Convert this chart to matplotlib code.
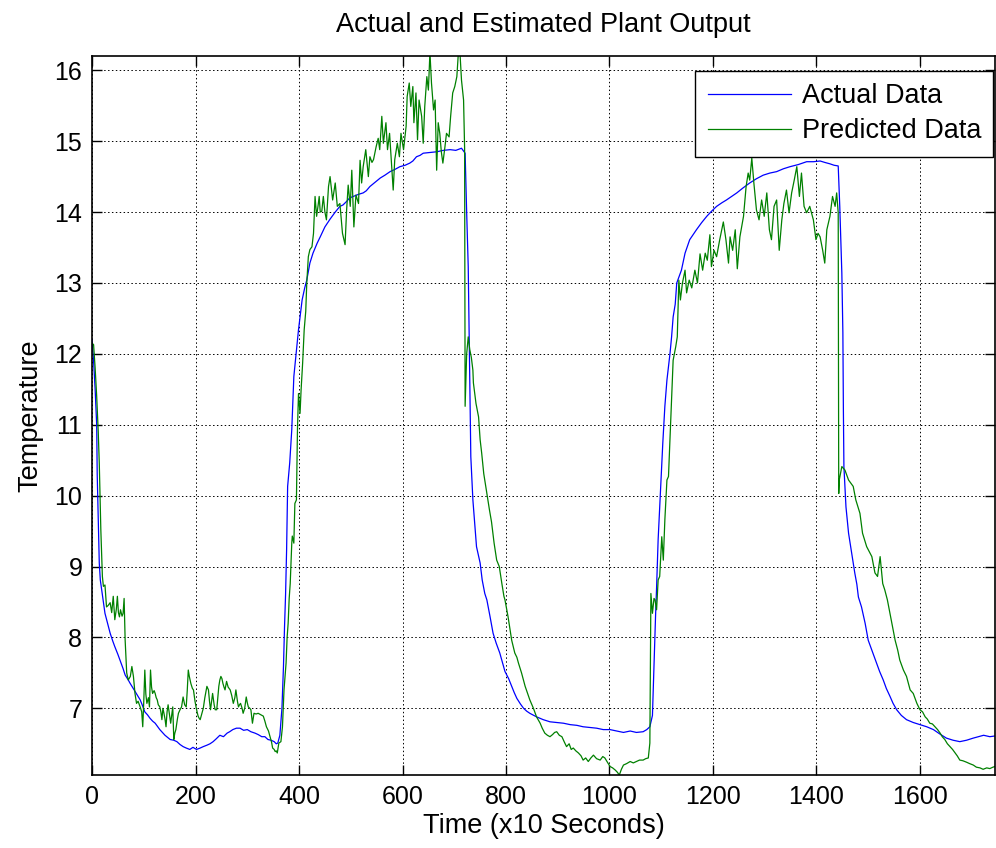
import matplotlib
matplotlib.use("Agg")
import matplotlib.pyplot as plt

# ---------------- data ----------------
t_actual = [
    0, 3, 6, 9, 10, 12, 14, 16, 20, 25,
    30, 35, 40, 44, 50, 54, 60, 64, 70, 73,
    78, 83, 88, 93, 98, 102, 107, 112, 117, 122,
    127, 131, 136, 141, 146, 151, 158, 164, 170, 176,
    182, 189, 195, 202, 209, 215, 222, 228, 234, 240,
    247, 254, 261, 266, 272, 279, 286, 293, 300, 307,
    315, 321, 328, 334, 340, 346, 352, 356, 359, 363,
    367, 370, 372, 374, 376, 378, 382, 386, 388, 390,
    394, 399, 402, 406, 411, 415, 421, 427, 435, 441,
    450, 460, 470, 479, 485, 492, 498, 505, 515, 524,
    530, 537, 547, 557, 566, 576, 585, 595, 605, 614,
    620, 627, 634, 640, 653, 666, 679, 692, 703, 714,
    721, 724, 727, 729, 730, 732, 736, 740, 743, 750,
    754, 759, 763, 769, 775, 781, 788, 793, 798, 805,
    811, 816, 821, 828, 834, 840, 846, 859, 872, 885,
    898, 911, 924, 937, 949, 962, 975, 988, 1001, 1014,
    1027, 1040, 1052, 1065, 1072, 1078, 1083, 1086, 1089, 1091,
    1094, 1099, 1103, 1107, 1111, 1117, 1120, 1123, 1127, 1130,
    1139, 1146, 1155, 1168, 1178, 1188, 1197, 1207, 1217, 1226,
    1236, 1246, 1258, 1271, 1284, 1297, 1310, 1323, 1336, 1349,
    1365, 1381, 1394, 1407, 1416, 1426, 1434, 1442, 1445, 1449,
    1451, 1452, 1453, 1457, 1462, 1468, 1474, 1478, 1481, 1487,
    1494, 1500, 1508, 1516, 1522, 1529, 1535, 1542, 1548, 1555,
    1564, 1574, 1587, 1600, 1613, 1626, 1638, 1651, 1664, 1677,
    1690, 1703, 1713, 1723, 1735, 1745,
]
v_actual = [
    12.2, 11.9, 11.5, 11.0, 10.3, 9.66, 9.05, 8.81, 8.6, 8.34,
    8.2, 8.06, 7.95, 7.87, 7.76, 7.68, 7.56, 7.47, 7.40, 7.36,
    7.30, 7.24, 7.18, 7.12, 7.03, 6.95, 6.91, 6.86, 6.82, 6.79,
    6.74, 6.70, 6.66, 6.62, 6.59, 6.56, 6.55, 6.53, 6.49, 6.46,
    6.44, 6.42, 6.45, 6.42, 6.44, 6.46, 6.48, 6.50, 6.53, 6.57,
    6.62, 6.60, 6.65, 6.67, 6.70, 6.72, 6.72, 6.69, 6.70, 6.67,
    6.65, 6.63, 6.60, 6.60, 6.56, 6.55, 6.53, 6.50, 6.51, 6.62,
    7.0, 7.6, 8.15, 8.6, 9.23, 10.13, 10.46, 10.93, 11.31, 11.68,
    11.98, 12.34, 12.52, 12.76, 12.93, 13.04, 13.28, 13.42, 13.56, 13.65,
    13.79, 13.90, 14.0, 14.08, 14.10, 14.15, 14.20, 14.22, 14.25, 14.27,
    14.30, 14.36, 14.42, 14.48, 14.52, 14.57, 14.60, 14.64, 14.66, 14.69,
    14.72, 14.78, 14.80, 14.83, 14.84, 14.85, 14.87, 14.88, 14.87, 14.90,
    14.83, 13.99, 13.23, 12.2, 11.59, 10.55, 9.94, 9.56, 9.28, 9.05,
    8.81, 8.62, 8.53, 8.30, 8.06, 7.92, 7.78, 7.65, 7.52, 7.42,
    7.31, 7.22, 7.14, 7.06, 7.0, 6.96, 6.93, 6.88, 6.84, 6.81,
    6.80, 6.79, 6.77, 6.76, 6.74, 6.73, 6.72, 6.70, 6.70, 6.68,
    6.66, 6.68, 6.66, 6.67, 6.70, 6.74, 6.9, 7.6, 8.3, 8.7,
    9.38, 10.13, 10.74, 11.26, 11.63, 12.01, 12.24, 12.52, 12.7, 13.0,
    13.18, 13.42, 13.61, 13.75, 13.85, 13.94, 14.01, 14.08, 14.13, 14.17,
    14.22, 14.27, 14.34, 14.41, 14.47, 14.52, 14.55, 14.57, 14.61, 14.64,
    14.67, 14.71, 14.71, 14.72, 14.70, 14.68, 14.66, 14.65, 14.08, 13.14,
    12.3, 11.21, 10.41, 9.84, 9.47, 9.19, 8.91, 8.75, 8.57, 8.43,
    8.2, 7.96, 7.80, 7.64, 7.52, 7.40, 7.28, 7.17, 7.07, 6.98,
    6.90, 6.84, 6.80, 6.77, 6.74, 6.70, 6.64, 6.58, 6.55, 6.53,
    6.55, 6.58, 6.60, 6.62, 6.60, 6.61,
]

t_predicted = [
    0, 3, 6, 9, 12, 14, 17, 20, 22, 25,
    28, 31, 35, 38, 41, 44, 47, 49, 51, 53,
    55, 58, 60, 62, 64, 67, 70, 74, 77, 80,
    83, 86, 89, 93, 96, 98, 100, 102, 104, 106,
    109, 111, 113, 115, 117, 120, 122, 124, 126, 128,
    131, 133, 135, 137, 139, 141, 143, 145, 147, 150,
    152, 154, 156, 158, 160, 162, 165, 167, 170, 173,
    176, 179, 182, 184, 186, 188, 191, 194, 196, 199,
    201, 203, 205, 207, 209, 212, 215, 218, 222, 225,
    227, 229, 231, 233, 236, 238, 241, 243, 245, 247,
    249, 251, 253, 255, 257, 260, 263, 267, 270, 273,
    276, 278, 281, 283, 285, 287, 290, 292, 295, 298,
    300, 302, 305, 307, 310, 313, 317, 321, 326, 331,
    334, 337, 341, 344, 347, 349, 352, 354, 356, 358,
    361, 365, 368, 371, 373, 375, 377, 379, 381, 383,
    386, 387, 390, 392, 395, 397, 399, 402, 404, 407,
    410, 413, 415, 418, 421, 425, 428, 431, 434, 437,
    439, 441, 444, 447, 450, 453, 457, 460, 465, 470,
    474, 479, 484, 489, 492, 495, 499, 502, 506, 510,
    515, 518, 521, 524, 529, 534, 537, 541, 544, 549,
    553, 556, 560, 563, 568, 571, 575, 579, 582, 585,
    590, 594, 597, 602, 607, 609, 613, 616, 620, 622,
    626, 629, 632, 637, 640, 643, 647, 650, 653, 656,
    660, 663, 666, 669, 672, 675, 678, 682, 685, 690,
    693, 697, 701, 705, 708, 711, 714, 718, 720, 721,
    724, 727, 730, 733, 736, 737, 742, 747, 750, 753,
    757, 763, 768, 772, 777, 782, 787, 792, 796, 798,
    804, 811, 817, 821, 824, 830, 837, 846, 853, 859,
    866, 870, 875, 880, 885, 890, 894, 898, 903, 908,
    913, 917, 922, 926, 930, 935, 940, 945, 949, 954,
    959, 964, 969, 975, 982, 987, 991, 996, 1001, 1006,
    1011, 1015, 1019, 1023, 1027, 1033, 1040, 1046, 1052, 1058,
    1065, 1070, 1075, 1078, 1080, 1083, 1086, 1088, 1091, 1094,
    1097, 1101, 1104, 1107, 1111, 1114, 1117, 1120, 1123, 1128,
    1131, 1134, 1137, 1141, 1146, 1149, 1154, 1159, 1165, 1170,
    1175, 1180, 1185, 1189, 1194, 1197, 1202, 1207, 1213, 1220,
    1225, 1230, 1233, 1238, 1243, 1247, 1252, 1259, 1264, 1268,
    1271, 1275, 1279, 1284, 1289, 1294, 1299, 1304, 1309, 1313,
    1318, 1323, 1328, 1333, 1337, 1342, 1347, 1352, 1357, 1362,
    1367, 1371, 1376, 1381, 1387, 1394, 1399, 1403, 1407, 1412,
    1416, 1420, 1426, 1431, 1436, 1439, 1442, 1443, 1444, 1449,
    1455, 1462, 1471, 1476, 1484, 1489, 1497, 1507, 1513, 1518,
    1523, 1528, 1532, 1537, 1542, 1547, 1552, 1557, 1561, 1568,
    1574, 1581, 1587, 1594, 1600, 1605, 1610, 1614, 1619, 1624,
    1629, 1634, 1639, 1643, 1648, 1653, 1658, 1663, 1668, 1672,
    1677, 1683, 1690, 1696, 1703, 1709, 1716, 1722, 1729, 1735,
    1741, 1745,
]
v_predicted = [
    12.15, 12.13, 11.8, 11.4, 10.9, 10.46, 9.52, 8.86, 8.72, 8.74,
    8.43, 8.45, 8.49, 8.35, 8.58, 8.25, 8.40, 8.58, 8.35, 8.29,
    8.39, 8.30, 8.34, 8.55, 7.96, 7.50, 7.40, 7.45, 7.59, 7.45,
    7.21, 7.07, 7.10, 7.02, 6.95, 6.74, 7.1, 7.54, 7.2, 7.07,
    7.15, 7.02, 7.54, 7.3, 7.21, 7.25, 7.21, 7.15, 7.12, 7.05,
    7.02, 6.95, 6.84, 7.0, 6.93, 6.85, 6.74, 6.95, 7.05, 6.9,
    6.79, 6.9, 7.02, 6.56, 6.65, 6.70, 6.85, 6.93, 6.98, 7.02,
    7.16, 7.05, 7.02, 7.25, 7.54, 7.45, 7.35, 7.28, 7.26, 7.10,
    7.02, 6.95, 6.89, 6.86, 6.84, 6.92, 7.0, 7.15, 7.31, 7.26,
    7.10, 6.98, 7.1, 7.21, 7.05, 6.98, 6.98, 7.15, 7.31, 7.40,
    7.45, 7.42, 7.35, 7.3, 7.26, 7.38, 7.30, 7.26, 7.18, 7.07,
    7.15, 7.26, 7.10, 7.02, 7.05, 7.07, 7.0, 6.93, 7.0, 7.16,
    7.08, 7.02, 7.0, 6.98, 6.79, 6.93, 6.92, 6.93, 6.91, 6.89,
    6.82, 6.74, 6.68, 6.60, 6.52, 6.44, 6.42, 6.39, 6.40, 6.37,
    6.51, 6.53, 6.74, 7.26, 7.45, 7.64, 8.0, 8.20, 8.55, 8.76,
    9.33, 9.43, 9.33, 9.89, 9.94, 10.93, 11.44, 11.16, 11.49, 11.87,
    12.34, 12.6, 13.0, 13.37, 13.47, 13.51, 13.70, 14.22, 13.94, 14.1,
    14.22, 14.0, 14.01, 14.22, 14.0, 13.89, 14.36, 14.5, 14.17, 14.41,
    14.08, 14.12, 13.70, 13.54, 14.03, 14.38, 14.08, 14.59, 13.79, 14.24,
    14.12, 14.73, 14.41, 14.64, 14.88, 14.5, 14.78, 14.70, 14.74, 14.92,
    15.04, 14.88, 15.35, 14.97, 15.26, 14.88, 15.11, 14.64, 14.31, 14.74,
    14.97, 14.78, 15.11, 14.88, 15.21, 15.63, 15.82, 15.49, 15.77, 15.26,
    15.68, 15.02, 15.58, 15.35, 14.97, 15.49, 15.91, 15.72, 16.25, 15.82,
    15.44, 15.58, 14.59, 15.26, 15.11, 14.85, 14.69, 14.92, 15.11, 15.06,
    15.35, 15.68, 15.77, 15.91, 16.25, 16.25, 15.86, 15.58, 14.9, 11.26,
    12.0, 12.24, 12.06, 11.95, 11.77, 11.59, 11.30, 11.11, 10.79, 10.60,
    10.31, 10.03, 9.80, 9.63, 9.33, 9.09, 9.0, 8.76, 8.58, 8.53,
    8.29, 7.96, 7.78, 7.72, 7.64, 7.50, 7.31, 7.12, 7.0, 6.88,
    6.79, 6.72, 6.65, 6.62, 6.60, 6.63, 6.66, 6.67, 6.62, 6.60,
    6.52, 6.46, 6.50, 6.42, 6.44, 6.40, 6.37, 6.33, 6.27, 6.30,
    6.25, 6.30, 6.34, 6.29, 6.27, 6.32, 6.30, 6.24, 6.18, 6.16,
    6.13, 6.10, 6.06, 6.14, 6.20, 6.22, 6.25, 6.23, 6.25, 6.27,
    6.27, 6.29, 6.30, 6.51, 8.62, 8.34, 8.55, 8.53, 8.39, 8.81,
    8.86, 9.42, 9.09, 9.66, 10.22, 10.27, 10.83, 11.35, 11.91, 12.10,
    12.24, 13.04, 12.76, 13.0, 13.18, 12.86, 13.04, 12.93, 13.18, 13.0,
    13.41, 13.18, 13.42, 13.32, 13.68, 13.23, 13.46, 13.37, 13.61, 13.86,
    13.61, 13.28, 13.65, 13.46, 13.75, 13.20, 13.65, 13.94, 14.36, 14.55,
    14.45, 14.76, 14.41, 14.03, 13.89, 14.17, 13.94, 14.27, 13.75, 13.61,
    14.08, 14.17, 13.46, 13.89, 14.12, 14.31, 13.99, 14.27, 14.45, 14.64,
    14.22, 14.55, 14.08, 13.99, 14.08, 13.89, 13.61, 13.70, 13.65, 13.46,
    13.28, 13.75, 13.94, 14.22, 14.08, 14.27, 13.99, 10.03, 10.22, 10.41,
    10.36, 10.22, 10.13, 9.94, 9.75, 9.47, 9.28, 9.14, 8.91, 8.86,
    9.14, 8.76, 8.67, 8.53, 8.34, 8.15, 7.96, 7.82, 7.68, 7.54,
    7.45, 7.26, 7.21, 7.07, 6.98, 6.95, 6.88, 6.85, 6.79, 6.78,
    6.74, 6.70, 6.65, 6.60, 6.56, 6.50, 6.46, 6.42, 6.37, 6.33,
    6.27, 6.26, 6.24, 6.22, 6.20, 6.17, 6.16, 6.14, 6.16, 6.15,
    6.17, 6.18,
]

x_ticks = [0, 200, 400, 600, 800, 1000, 1200, 1400, 1600]
y_ticks = [7, 8, 9, 10, 11, 12, 13, 14, 15, 16]
x_limits = (0, 1745)
y_limits = (6.055, 16.205)
series_labels = ["Actual Data", "Predicted Data"]
title_text = "Actual and Estimated Plant Output"
x_label = "Time (x10 Seconds)"
y_label = "Temperature"

# ---------------- plot ----------------
plt.rcParams['font.family'] = ['Liberation Sans', 'DejaVu Sans']

fig = plt.figure(figsize=(9.96, 8.48), dpi=100)
ax = fig.add_axes([0.0924, 0.0857, 0.9066, 0.8486])

n1 = min(len(t_actual), len(v_actual))
n2 = min(len(t_predicted), len(v_predicted))
ax.plot(t_actual[:n1], v_actual[:n1], color='#0000ff', lw=0.9, label=series_labels[0])
ax.plot(t_predicted[:n2], v_predicted[:n2], color='#008000', lw=0.9, label=series_labels[1])

ax.set_xlim(*x_limits)
ax.set_ylim(*y_limits)
ax.set_xticks(x_ticks)
ax.set_yticks(y_ticks)

ax.grid(True, color='black', linestyle=(0, (1.5, 2.5)), linewidth=0.7)
ax.tick_params(direction='in', length=7, width=1, top=True, right=True,
               labelsize=18, pad=7)
for s in ax.spines.values():
    s.set_linewidth(1.2)
    s.set_color('black')

ax.set_title(title_text, fontsize=19.5, pad=17)
ax.set_xlabel(x_label, fontsize=19.5, labelpad=3)
ax.set_ylabel(y_label, fontsize=19.5, labelpad=8)

leg = ax.legend(loc='upper right', bbox_to_anchor=(0.998, 0.979),
                fontsize=19.5, frameon=True, fancybox=False, framealpha=1,
                edgecolor='black', handlelength=3.1, handletextpad=0.37,
                borderpad=0.45, labelspacing=0.35, borderaxespad=0)
leg.get_frame().set_linewidth(1.0)

fig.savefig('out.png', dpi=100)
